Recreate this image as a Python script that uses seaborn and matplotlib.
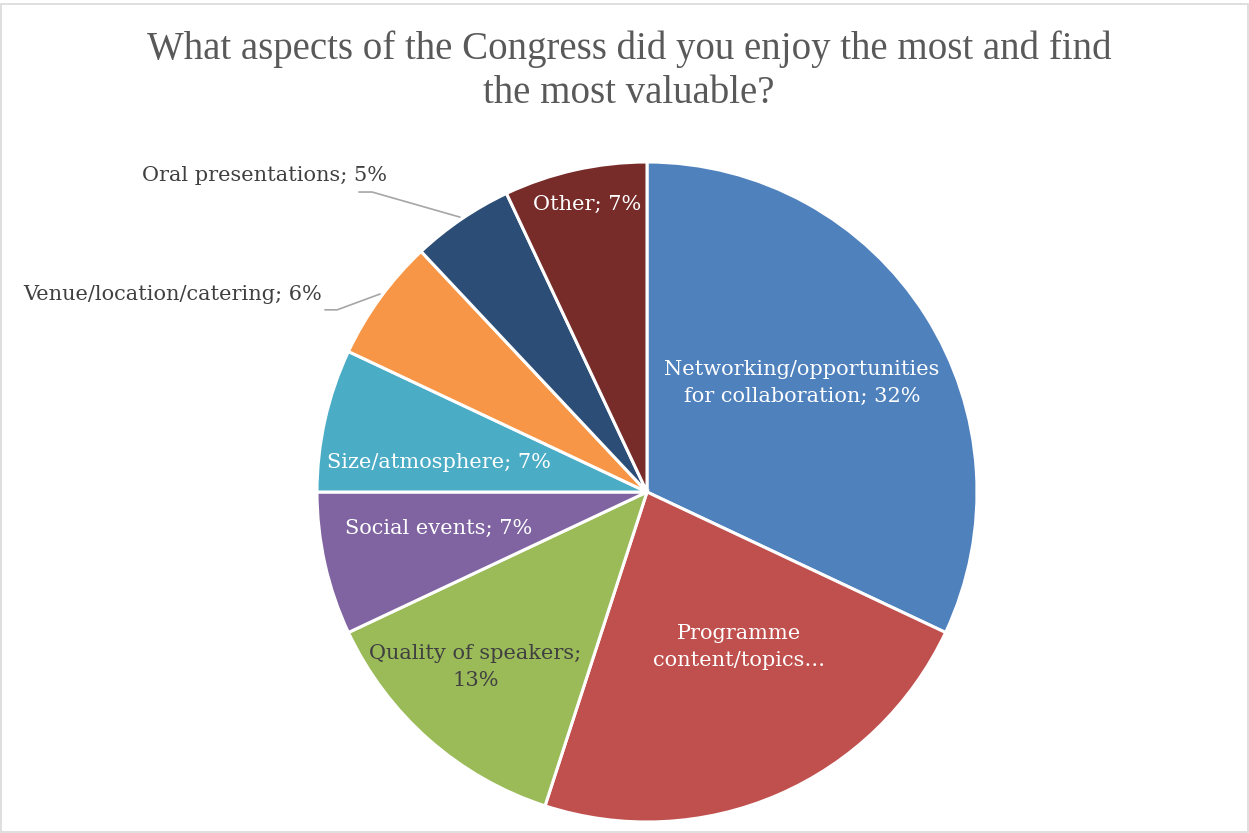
import matplotlib
matplotlib.use("Agg")
import matplotlib.pyplot as plt
import seaborn as sns

# Veriler (grafikten okunan yüzdeler)
kategoriler = [
    "Networking/opportunities\nfor collaboration",
    "Programme\ncontent/topics",
    "Quality of speakers",
    "Social events",
    "Size/atmosphere",
    "Venue/location/catering",
    "Oral presentations",
    "Other",
]
yuzdeler = [32, 23, 13, 7, 7, 6, 5, 7]
etiketler = [
    "Networking/opportunities\nfor collaboration; 32%",
    "Programme\ncontent/topics…",
    "Quality of speakers;\n13%",
    "Social events; 7%",
    "Size/atmosphere; 7%",
    "Venue/location/catering; 6%",
    "Oral presentations; 5%",
    "Other; 7%",
]
renkler = ["#4f81bd", "#c0504d", "#9bbb59", "#8064a2",
           "#4bacc6", "#f79646", "#2c4d75", "#772c2a"]
yazi_renkleri = ["white", "white", "#404040", "white",
                 "white", "#404040", "#404040", "white"]

sns.set_theme(style="white")
plt.rcParams["font.family"] = ["DejaVu Serif"]

W, H = 1249, 833
fig = plt.figure(figsize=(W / 100, H / 100), dpi=100)
fig.patch.set_facecolor("white")

# pasta merkezi ve yarıçap (piksel)
cx, cy, r = 647, 492, 330
ax = fig.add_axes([(cx - r) / W, (H - cy - r) / H, 2 * r / W, 2 * r / H])

palet = sns.color_palette(renkler)
wedges, _ = ax.pie(
    yuzdeler, colors=palet, startangle=90, counterclock=False,
    radius=1, wedgeprops=dict(edgecolor="white", linewidth=2.2),
)
ax.set_xlim(-1, 1)
ax.set_ylim(-1, 1)
ax.set_aspect("equal")
ax.axis("off")

# etiket konumları (veri koordinatı)
konumlar = [(0.47, 0.33), (0.28, -0.47), (-0.52, -0.53), (-0.63, -0.11),
            (-0.63, 0.09), (-0.985, 0.60), (-1.16, 0.96), (-0.18, 0.87)]
hizalar = ["center"] * 5 + ["right", "center", "center"]
for metin, (x, y), renk, ha in zip(etiketler, konumlar, yazi_renkleri, hizalar):
    ax.text(x, y, metin, ha=ha, va="center", color=renk, fontsize=15,
            linespacing=1.5, clip_on=False)

# dış etiketler için kılavuz çizgiler
ax.plot([-0.976, -0.939, -0.809], [0.552, 0.552, 0.600],
        color="#a6a6a6", lw=1.2, clip_on=False)
ax.plot([-0.873, -0.833, -0.567], [0.909, 0.909, 0.833],
        color="#a6a6a6", lw=1.2, clip_on=False)

fig.text(629 / W, 1 - 71 / H,
         "What aspects of the Congress did you enjoy the most and find\nthe most valuable?",
         ha="center", va="center", fontsize=28, color="#595959",
         family="Liberation Serif", linespacing=1.25)

# çerçeve
fig.add_artist(plt.Rectangle((0.001, 0.001), 0.998, 0.994, transform=fig.transFigure,
                             fill=False, edgecolor="#d9d9d9", lw=1.2))

fig.savefig("out.png", dpi=100)
